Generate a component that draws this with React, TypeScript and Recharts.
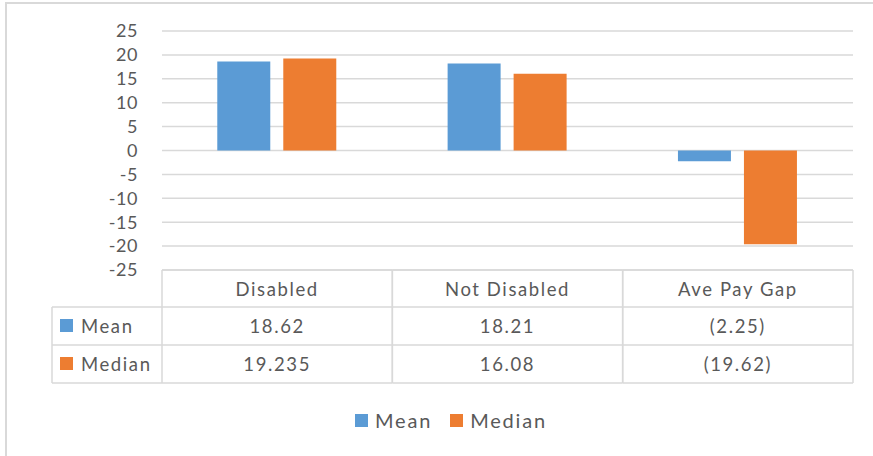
import React from "react";
import { BarChart, Bar, XAxis, YAxis, CartesianGrid } from "recharts";

const categories = ["Disabled", "Not Disabled", "Ave Pay Gap"];
const meanValues = [18.62, 18.21, -2.25];
const medianValues = [19.235, 16.08, -19.62];
const meanLabels = ["18.62", "18.21", "(2.25)"];
const medianLabels = ["19.235", "16.08", "(19.62)"];
const yTicks = [-25, -20, -15, -10, -5, 0, 5, 10, 15, 20, 25];
const seriesNames = ["Mean", "Median"];
const seriesColors = ["#5B9BD5", "#ED7D31"];

const data = categories.map((c, i) => ({
  name: c,
  mean: meanValues[i],
  median: medianValues[i],
}));

const W = 873;
const H = 456;
const LEFT = 162;
const RIGHT_M = 20;
const TOP = 31;
const AXIS_H = 186;
const BAND = (W - LEFT - RIGHT_M) / categories.length;
const FONT = "Lato, 'Open Sans', sans-serif";
const TXT = "#595959";
const LINE = "#d9d9d9";
const LS = 1.6;
const FS = 18.5;

const TableTick = (props: any) => {
  const { x, y, payload, index } = props;
  const i = typeof index === "number" ? index : categories.indexOf(payload.value);
  const x0 = x - BAND / 2;
  const x1 = x + BAND / 2;
  const r0 = y;
  const r1 = y + 37;
  const r2 = y + 75;
  const r3 = y + 113;
  const rowLabels = [meanLabels[i], medianLabels[i]];
  return (
    <g>
      <line x1={x0} x2={x1} y1={r0} y2={r0} stroke={LINE} strokeWidth={1.5} />
      <line x1={x0} x2={x1} y1={r1} y2={r1} stroke={LINE} strokeWidth={1.5} />
      <line x1={x0} x2={x1} y1={r2} y2={r2} stroke={LINE} strokeWidth={1.5} />
      <line x1={x0} x2={x1} y1={r3} y2={r3} stroke={LINE} strokeWidth={1.5} />
      <line x1={x0} x2={x0} y1={r0} y2={r3} stroke={LINE} strokeWidth={1.5} />
      <line x1={x1} x2={x1} y1={r0} y2={r3} stroke={LINE} strokeWidth={1.5} />
      <text x={x} y={(r0 + r1) / 2} textAnchor="middle" dominantBaseline="central" fill={TXT} fontSize={FS} fontFamily={FONT} letterSpacing={LS}>
        {payload.value}
      </text>
      {rowLabels.map((t, k) => (
        <text key={k} x={x} y={k === 0 ? (r1 + r2) / 2 : (r2 + r3) / 2} textAnchor="middle" dominantBaseline="central" fill={TXT} fontSize={FS} fontFamily={FONT} letterSpacing={LS}>
          {t}
        </text>
      ))}
      {i === 0 && (
        <g>
          <line x1={52} x2={x0} y1={r1} y2={r1} stroke={LINE} strokeWidth={1.5} />
          <line x1={52} x2={x0} y1={r2} y2={r2} stroke={LINE} strokeWidth={1.5} />
          <line x1={52} x2={x0} y1={r3} y2={r3} stroke={LINE} strokeWidth={1.5} />
          <line x1={52} x2={52} y1={r1} y2={r3} stroke={LINE} strokeWidth={1.5} />
          {seriesNames.map((s, k) => {
            const cy = k === 0 ? (r1 + r2) / 2 : (r2 + r3) / 2;
            return (
              <g key={s}>
                <rect x={60} y={cy - 7} width={13} height={13} fill={seriesColors[k]} />
                <text x={81} y={cy} dominantBaseline="central" fill={TXT} fontSize={FS} fontFamily={FONT} letterSpacing={LS}>
                  {s}
                </text>
              </g>
            );
          })}
        </g>
      )}
    </g>
  );
};

export default function App() {
  return (
    <div style={{ position: "absolute", left: 0, top: 0, width: W, height: H, background: "#fff", overflow: "hidden" }}>
      <div style={{ position: "absolute", left: 5, top: 2, width: W + 10, height: H + 10, borderLeft: `2px solid ${LINE}`, borderTop: `2px solid ${LINE}`, boxSizing: "border-box" }} />
      <div style={{ position: "absolute", left: 0, top: 0 }}>
        <BarChart width={W} height={H} data={data} margin={{ top: TOP, right: RIGHT_M, left: 0, bottom: 0 }} barGap={13} barCategoryGap="24%">
          <CartesianGrid vertical={false} stroke={LINE} strokeWidth={1.5} />
          <YAxis
            width={LEFT}
            domain={[-25, 25]}
            ticks={yTicks}
            interval={0}
            axisLine={false}
            tickLine={false}
            tickSize={0}
            tickMargin={24}
            tick={{ fill: TXT, fontSize: 18, fontFamily: FONT, letterSpacing: 0.6 }}
          />
          <XAxis
            dataKey="name"
            height={AXIS_H}
            axisLine={false}
            tickLine={false}
            tickSize={0}
            tickMargin={0}
            interval={0}
            tick={<TableTick />}
          />
          <Bar dataKey="mean" fill={seriesColors[0]} isAnimationActive={false} />
          <Bar dataKey="median" fill={seriesColors[1]} isAnimationActive={false} />
        </BarChart>
      </div>
      <div style={{ position: "absolute", left: 355, top: 408, display: "flex", alignItems: "center", fontFamily: FONT, fontSize: 20, color: TXT, height: 24, letterSpacing: 1.8 }}>
        {seriesNames.map((s, k) => (
          <div key={s} style={{ display: "flex", alignItems: "center", marginRight: 18 }}>
            <div style={{ width: 13, height: 13, background: seriesColors[k], marginRight: 7 }} />
            <span>{s}</span>
          </div>
        ))}
      </div>
    </div>
  );
}
